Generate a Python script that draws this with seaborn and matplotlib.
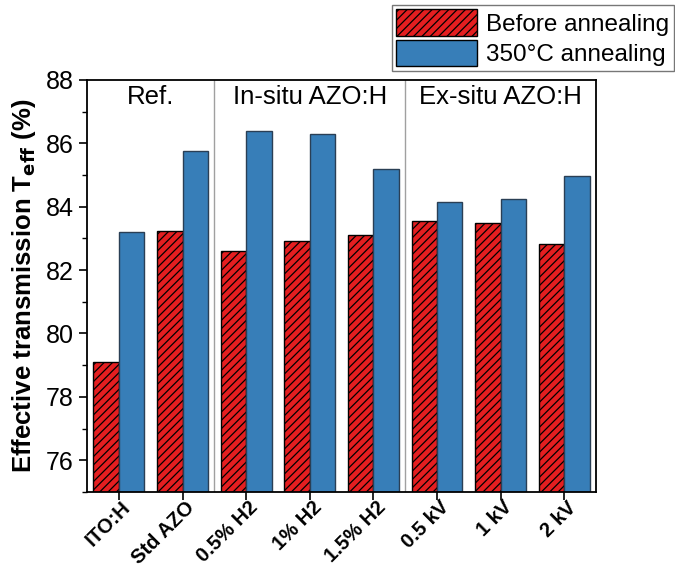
import matplotlib
matplotlib.use("Agg")
import matplotlib.pyplot as plt
import matplotlib.transforms as mtransforms
from matplotlib.patches import Patch
from matplotlib.ticker import MultipleLocator
import seaborn as sns
import pandas as pd

# Samples and measured effective transmission (%)
samples = ["ITO:H", "Std AZO", "0.5% H2", "1% H2", "1.5% H2", "0.5 kV", "1 kV", "2 kV"]
before_annealing = [79.11, 83.24, 82.60, 82.90, 83.10, 83.56, 83.48, 82.83]
after_annealing = [83.19, 85.74, 86.40, 86.30, 85.20, 84.14, 84.23, 84.95]
conditions = ["Before annealing", "350°C annealing"]
group_names = ["Ref.", "In-situ AZO:H", "Ex-situ AZO:H"]
group_spans = [(0, 1), (2, 4), (5, 7)]

df = pd.DataFrame({
    "sample": samples * 2,
    "condition": [conditions[0]] * len(samples) + [conditions[1]] * len(samples),
    "T": before_annealing + after_annealing,
})

red = "#E41E20"
blue = "#377EB8"

sns.set_style("ticks")
plt.rcParams["font.family"] = ["Liberation Sans", "DejaVu Sans"]
plt.rcParams["hatch.linewidth"] = 0.9
plt.rcParams["hatch.color"] = "black"
plt.rcParams["text.color"] = "black"
plt.rcParams["axes.labelcolor"] = "black"
plt.rcParams["xtick.color"] = "black"
plt.rcParams["ytick.color"] = "black"

fig = plt.figure(figsize=(6.75, 5.7), dpi=100)
ax = fig.add_axes([0.129, 0.137, 0.754, 0.723])

sns.barplot(data=df, x="sample", y="T", hue="condition", order=samples,
            hue_order=conditions, palette=[red, blue], width=0.8, saturation=1,
            edgecolor="black", linewidth=1.0, legend=False, ax=ax)

for bar in ax.containers[0]:
    bar.set_hatch("////")
for bar in ax.containers[1]:
    bar.set_edgecolor("#2a3f55")

ax.set_ylim(75, 88)
ax.set_xlim(-0.5, len(samples) - 0.5)
ax.yaxis.set_major_locator(MultipleLocator(2))
ax.yaxis.set_minor_locator(MultipleLocator(1))
ax.tick_params(axis="y", which="major", labelsize=18, length=6, width=1.2, direction="out")
ax.tick_params(axis="y", which="minor", length=3.5, width=1.0, direction="out")
ax.tick_params(axis="x", length=6, width=1.2, direction="out", pad=3)
ax.set_xticks(range(len(samples)))
ax.set_xticklabels(samples, rotation=45, ha="right", va="center",
                   rotation_mode="anchor", fontsize=14.5, fontweight="bold")
shift = mtransforms.ScaledTranslation(9 / 100, 0, fig.dpi_scale_trans)
for lbl in ax.get_xticklabels():
    lbl.set_transform(lbl.get_transform() + shift)
for sp in ax.spines.values():
    sp.set_visible(True)
    sp.set_linewidth(1.3)
    sp.set_color("black")

ax.set_xlabel("")
ax.set_ylabel(r"Effective transmission T$_{\mathbf{eff}}$ (%)", fontsize=18.5,
              fontweight="bold", labelpad=6)

# group separators and titles
for x in (1.5, 4.5):
    ax.axvline(x, color="#a0a0a0", linewidth=1.0, zorder=0)
for name, (a, b) in zip(group_names, group_spans):
    ax.text((a + b) / 2, 87.45, name, ha="center", va="center", fontsize=18.5)

handles = [Patch(facecolor=red, edgecolor="black", hatch="////", label=conditions[0]),
           Patch(facecolor=blue, edgecolor="black", label=conditions[1])]
leg = fig.legend(handles=handles, loc="upper right", bbox_to_anchor=(0.999, 0.992),
                 fontsize=17.5, frameon=True, fancybox=False, edgecolor="#555555",
                 handlelength=3.3, handleheight=1.3, handletextpad=0.4,
                 borderpad=0.2, labelspacing=0.15, borderaxespad=0.0)
leg.get_frame().set_linewidth(1.0)

fig.savefig("out.png", dpi=100)
